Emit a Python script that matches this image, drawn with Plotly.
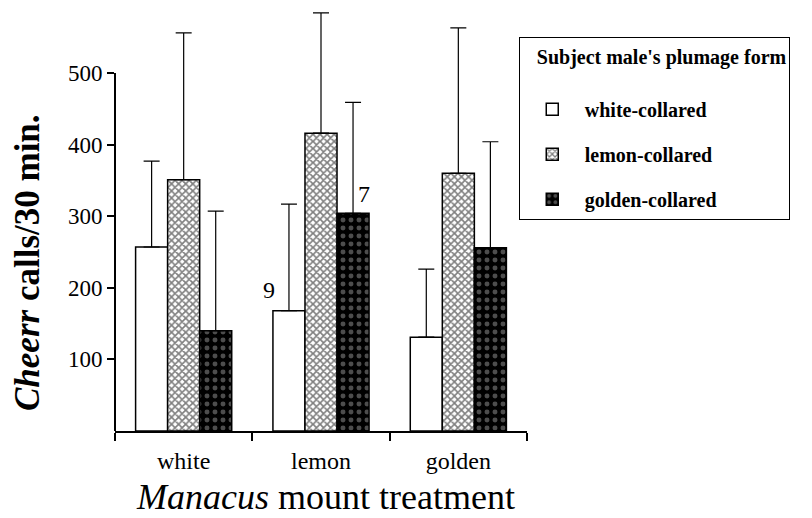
import plotly.graph_objects as go

treatments = ["white", "lemon", "golden"]
series_names = ["white-collared", "lemon-collared", "golden-collared"]
means = {
    "white-collared": [257, 168, 131],
    "lemon-collared": [351, 416, 360],
    "golden-collared": [140, 304, 256],
}
errors_up = {
    "white-collared": [120, 149, 95],
    "lemon-collared": [205, 168, 203],
    "golden-collared": [167, 155, 148],
}
n_labels = [("lemon", "white-collared", "9"), ("lemon", "golden-collared", "7")]

patterns = {
    "white-collared": dict(shape="", bgcolor="white"),
    "lemon-collared": dict(shape="x", fgcolor="black", bgcolor="white", size=5, solidity=0.55),
    "golden-collared": dict(shape=".", fgcolor="#9a9a9a", bgcolor="black", size=8, solidity=0.3),
}
fills = {"white-collared": "white", "lemon-collared": "white", "golden-collared": "black"}

SERIF = "Liberation Serif"

fig = go.Figure()
for i, s in enumerate(series_names):
    fig.add_trace(go.Bar(
        x=treatments, y=means[s], name=s,
        marker=dict(color=fills[s], line=dict(color="black", width=1.5),
                    pattern=patterns[s]),
        error_y=dict(type="data", array=errors_up[s], arrayminus=[0] * 3,
                     symmetric=False, color="black", thickness=1.2, width=8),
        legendgroup=s,
    ))

fig.update_layout(
    width=812, height=518,
    paper_bgcolor="white", plot_bgcolor="white",
    margin=dict(l=115, r=285, t=0, b=87, autoexpand=False),
    barmode="group", bargap=0.30, bargroupgap=0,
    font=dict(family=SERIF, color="black"),
    xaxis=dict(
        range=[-0.5, 2.5], showline=True, linecolor="black", linewidth=2,
        ticks="outside", tickson="boundaries", ticklen=8, tickwidth=2, tickcolor="black",
        tickfont=dict(size=24, family=SERIF), showgrid=False, automargin=False,
        ticklabelstandoff=7,
    ),
    yaxis=dict(
        range=[0, 602], showline=False, showgrid=False, zeroline=False, automargin=False,
        tickvals=[100, 200, 300, 400, 500], ticks="outside", ticklen=7, tickwidth=2,
        tickcolor="black", tickfont=dict(size=23, family=SERIF),
    ),
    legend=dict(
        x=0.98, y=0.915, xanchor="left", yanchor="top",
        bordercolor="black", borderwidth=1, bgcolor="white",
        font=dict(size=20, family=SERIF, weight="bold"),
        title=dict(text="&nbsp;&nbsp;&nbsp;<b>Subject male's plumage form</b><br><span style='font-size:1px'> </span>",
                   font=dict(size=20, family=SERIF)),
        tracegroupgap=16, itemwidth=55,
    ),
    shapes=[dict(type="line", xref="paper", yref="y", x0=0, x1=0, y0=0, y1=500,
                 line=dict(color="black", width=2))],
)

# axis titles
fig.add_annotation(x=0.51, y=-0.152, xref="paper", yref="paper",
                   text="<i>Manacus</i> mount treatment", showarrow=False,
                   font=dict(size=36, family=SERIF), xanchor="center", yanchor="middle")
fig.add_annotation(x=-0.211, y=0.39, xref="paper", yref="paper",
                   text="<b><i>Cheerr</i> calls/30 min.</b>", showarrow=False, textangle=-90,
                   font=dict(size=35, family=SERIF), xanchor="center", yanchor="middle")

for cat, s, txt in n_labels:
    idx = treatments.index(cat)
    si = series_names.index(s)
    offset = (si - 1) * 0.233
    fig.add_annotation(
        x=idx + offset, y=means[s][idx], xref="x", yref="y",
        text=txt, showarrow=False, font=dict(size=24, family=SERIF),
        xanchor="center", yanchor="bottom",
        xshift=-20 if si == 0 else 11, yshift=6 if si == 0 else 4,
    )

fig.write_html("out.html", config={"displayModeBar": False},
               post_script="document.body.style.margin='0';")
